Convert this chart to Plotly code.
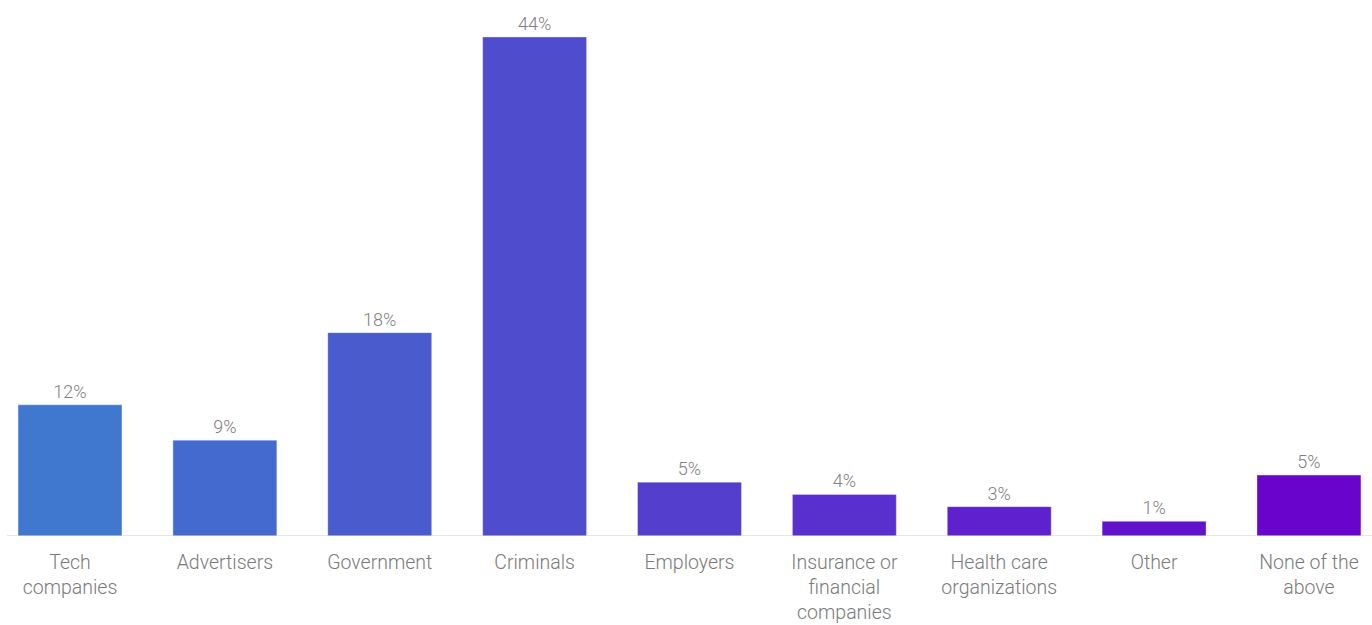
import plotly.graph_objects as go

categories = ["Tech<br>companies", "Advertisers", "Government", "Criminals", "Employers",
              "Insurance or<br>financial<br>companies", "Health care<br>organizations", "Other",
              "None of the<br>above"]
values = [11.57, 8.45, 17.93, 44.0, 4.75, 3.67, 2.59, 1.29, 5.37]
labels = ["12%", "9%", "18%", "44%", "5%", "4%", "3%", "1%", "5%"]

# colour gradient across the chart (left blue -> right purple)
start = (64, 120, 207)
end = (104, 4, 204)
n = len(categories)
colors = []
for i in range(n):
    t = i / (n - 1)
    c = tuple(round(start[k] + (end[k] - start[k]) * t) for k in range(3))
    colors.append("rgb(%d,%d,%d)" % c)

fig = go.Figure()
fig.add_trace(go.Bar(
    x=list(range(n)), y=values,
    marker=dict(color=colors, line=dict(color="rgba(255,255,255,0.35)", width=1)),
    text=labels, textposition="outside", cliponaxis=False,
    textfont=dict(family="Roboto", size=18, color="#808080", weight=300),
    hoverinfo="skip",
))

fig.update_layout(
    width=1372, height=625,
    margin=dict(l=0, r=0, t=0, b=89),
    paper_bgcolor="white", plot_bgcolor="white",
    bargap=0.329,
    showlegend=False,
    font=dict(family="Roboto", weight=300, color="#757575"),
    xaxis=dict(
        range=[-0.452, 8.407],
        tickmode="array", tickvals=list(range(n)), ticktext=categories,
        tickfont=dict(family="Roboto", size=19.5, color="#7a7a7a", weight=300),
        ticklabelstandoff=12,
        showgrid=False, zeroline=False, showline=False, ticks="",
    ),
    yaxis=dict(range=[0, 47.26], visible=False, showgrid=False, zeroline=False),
    shapes=[dict(type="line", xref="paper", yref="y", x0=0.005, x1=1, y0=0, y1=0,
                 line=dict(color="#cfcfcf", width=1))],
)

fig.write_html("out.html")
